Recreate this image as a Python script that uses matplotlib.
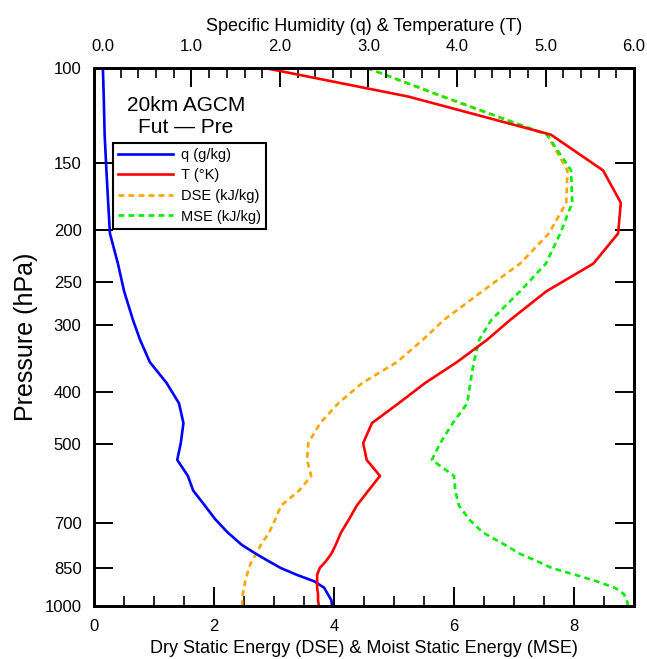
import numpy as np
import matplotlib
matplotlib.use("Agg")
import matplotlib.pyplot as plt
from matplotlib.ticker import FixedLocator, NullLocator, MultipleLocator, FormatStrFormatter

plt.rcParams["font.family"] = ["Liberation Sans", "DejaVu Sans"]

# pressure levels (hPa), bottom to top
pres = [1000, 975, 950, 925, 900, 875, 850, 825, 800, 770, 730, 690, 650, 610,
        573, 535, 498, 457, 420, 385, 352, 320, 294, 260, 231, 203, 178, 155,
        133, 113, 100]

# specific humidity difference (g/kg), top axis
q = [2.59, 2.58, 2.54, 2.50, 2.39, 2.19, 2.01, 1.87, 1.73, 1.57, 1.41, 1.27,
     1.15, 1.02, 0.96, 0.84, 0.88, 0.91, 0.86, 0.72, 0.53, 0.42, 0.34, 0.24,
     0.17, 0.08, 0.06, 0.04, 0.02, 0.01, 0.0]

# temperature difference (K), top axis
temp = [2.44, 2.43, 2.43, 2.42, 2.42, 2.42, 2.45, 2.52, 2.58, 2.63, 2.69, 2.78,
        2.87, 3.00, 3.13, 2.98, 2.94, 3.04, 3.34, 3.64, 4.00, 4.34, 4.60, 5.01,
        5.54, 5.82, 5.85, 5.65, 5.06, 3.45, 1.83]

# dry static energy difference (kJ/kg), bottom axis
dse = [2.47, 2.47, 2.48, 2.50, 2.52, 2.55, 2.58, 2.63, 2.70, 2.78, 2.92, 3.02,
       3.12, 3.42, 3.62, 3.55, 3.57, 3.77, 4.07, 4.47, 5.05, 5.48, 5.83, 6.47,
       7.10, 7.58, 7.87, 7.89, 7.55, 5.80, 4.55]

# moist static energy difference (kJ/kg), bottom axis
mse = [8.90, 8.88, 8.83, 8.68, 8.38, 8.02, 7.63, 7.38, 7.10, 6.85, 6.48, 6.25,
       6.08, 6.02, 6.00, 5.63, 5.77, 5.98, 6.22, 6.27, 6.33, 6.42, 6.62, 7.10,
       7.53, 7.77, 7.97, 7.95, 7.55, 5.82, 4.55]

p_ticks = [100, 150, 200, 250, 300, 400, 500, 700, 850, 1000]

fig = plt.figure(figsize=(6.47, 6.59), dpi=100)
ax = fig.add_axes([0.1453, 0.0804, 0.8347, 0.8164])

lw = 1.9
ax.plot(dse, pres, color="orange", lw=lw, dashes=(2.2, 1.6), label="DSE (kJ/kg)")
ax.plot(mse, pres, color="#00ee00", lw=lw, dashes=(2.2, 1.6), label="MSE (kJ/kg)")

ax.set_yscale("log")
ax.set_ylim(1000, 100)
ax.yaxis.set_major_locator(FixedLocator(p_ticks))
ax.yaxis.set_minor_locator(NullLocator())
ax.set_yticklabels([str(p) for p in p_ticks])
ax.set_xlim(0, 9)
ax.xaxis.set_major_locator(MultipleLocator(2))
ax.xaxis.set_minor_locator(MultipleLocator(0.5))
ax.set_ylabel("Pressure (hPa)", fontsize=18, labelpad=5)
ax.set_xlabel("Dry Static Energy (DSE) & Moist Static Energy (MSE)", fontsize=13, labelpad=5)

ax.tick_params(axis="both", which="major", direction="in", length=14, width=1.4,
               labelsize=12, pad=9)
ax.tick_params(axis="x", which="minor", direction="in", length=7, width=1.2)
ax.tick_params(axis="y", right=True)
for s in ax.spines.values():
    s.set_linewidth(2)

ax2 = ax.twiny()
ax2.plot(q, pres, color="#0000ff", lw=lw, label="q (g/kg)")
ax2.plot(temp, pres, color="#ff0000", lw=lw, label="T (\u00b0K)")
ax2.set_xlim(-0.1, 6.0)
ax2.xaxis.set_major_locator(MultipleLocator(1.0))
ax2.xaxis.set_minor_locator(MultipleLocator(0.2))
ax2.xaxis.set_major_formatter(FormatStrFormatter("%.1f"))
ax2.tick_params(axis="x", which="major", direction="in", length=14, width=1.4,
                labelsize=12, pad=10)
ax2.tick_params(axis="x", which="minor", direction="in", length=7, width=1.2)
ax2.set_xlabel("Specific Humidity (q) & Temperature (T)", fontsize=13, labelpad=6)
for s in ax2.spines.values():
    s.set_linewidth(2)

h2, l2 = ax2.get_legend_handles_labels()
h1, l1 = ax.get_legend_handles_labels()
leg = ax2.legend(h2 + h1, l2 + l1, loc="upper left", bbox_to_anchor=(0.035, 0.861),
                 borderaxespad=0, fontsize=10.5, frameon=True, fancybox=False,
                 edgecolor="black", framealpha=1, handlelength=3.8,
                 handletextpad=0.5, labelspacing=0.45, borderpad=0.35)
leg.get_frame().set_linewidth(1.5)

ax2.text(0.17, 0.93, "20km AGCM", transform=ax2.transAxes, ha="center", va="center",
         fontsize=15)
ax2.text(0.17, 0.889, "Fut \u2014 Pre", transform=ax2.transAxes, ha="center", va="center",
         fontsize=15)

fig.savefig("out.png", dpi=100)
